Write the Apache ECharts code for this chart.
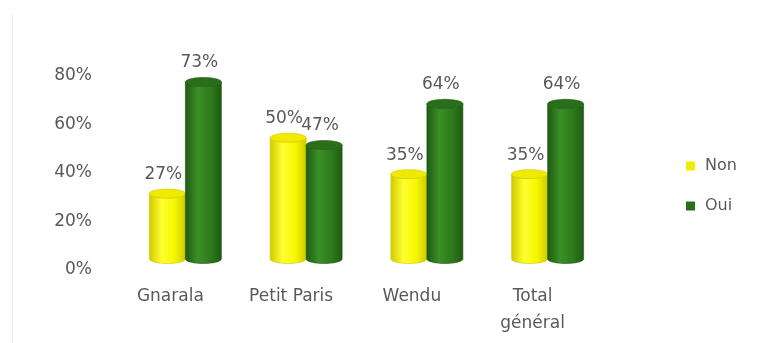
<!DOCTYPE html>
<html>
<head>
<meta charset="utf-8">
<script src="https://cdn.jsdelivr.net/npm/echarts@6/dist/echarts.min.js"></script>
<style>
  html, body { margin: 0; padding: 0; background: #fff; }
  #chart { width: 760px; height: 343px; }
</style>
</head>
<body>
<div id="chart"></div>
<script>
// Survey shares per locality
const categories = ['Gnarala', 'Petit Paris', 'Wendu', 'Total\ngénéral'];
const nonValues = [0.27, 0.50, 0.35, 0.35];
const ouiValues = [0.73, 0.47, 0.64, 0.64];
const yTicks = [0, 0.2, 0.4, 0.6, 0.8];

const TEXT = '#595959';
const FONT = 'DejaVu Sans';
const FONT_SIZE = 17;

// Cylinder geometry (pixels)
const BAR_W = 36;
const RY = 4.5;
const DEPTH_DX = 15;   // perspective shift of the bar pair
const DEPTH_DY = -11;

function ellipsePoints(cx, cy, rx, ry, a0, a1, n) {
  const pts = [];
  for (let i = 0; i <= n; i++) {
    const a = a0 + (a1 - a0) * i / n;
    pts.push([cx + rx * Math.cos(a), cy + ry * Math.sin(a)]);
  }
  return pts;
}

function makeCylinderRenderer(offset, palette) {
  return function (params, api) {
    const idx = api.value(0);
    const v = api.value(1);
    const top = api.coord([idx, v]);
    const base = api.coord([idx, 0]);
    const cx = top[0] + DEPTH_DX + offset;
    const yTop = top[1] + DEPTH_DY;
    const yBot = base[1] + DEPTH_DY;
    const rx = BAR_W / 2;
    const xL = cx - rx, xR = cx + rx;

    // Body: left side, bottom front arc, right side, top front arc
    const body = [[xL, yTop], [xL, yBot]]
      .concat(ellipsePoints(cx, yBot, rx, RY, Math.PI, 0, 30))
      .concat([[xR, yTop]])
      .concat(ellipsePoints(cx, yTop, rx, RY, 0, Math.PI, 30));

    const bodyFill = new echarts.graphic.LinearGradient(0, 0, 1, 0, [
      { offset: 0, color: palette.edge },
      { offset: 0.35, color: palette.light },
      { offset: 0.7, color: palette.main },
      { offset: 1, color: palette.edge }
    ]);

    return {
      type: 'group',
      children: [
        {
          type: 'polygon',
          shape: { points: body },
          style: { fill: bodyFill, stroke: palette.edge, lineWidth: 0.6 }
        },
        {
          type: 'polygon',
          shape: { points: ellipsePoints(cx, yTop, rx, RY, 0, Math.PI * 2, 48) },
          style: { fill: palette.top, stroke: palette.edge, lineWidth: 0.6 }
        },
        {
          type: 'text',
          style: {
            text: Math.round(v * 100) + '%',
            x: cx - 4,
            y: yTop - 19,
            align: 'center',
            verticalAlign: 'middle',
            fill: TEXT,
            font: FONT_SIZE + 'px ' + FONT
          },
          z2: 10
        }
      ]
    };
  };
}

const yellow = { main: '#f6f600', light: '#ffff30', edge: '#cfc900', top: '#f0ea00' };
const green = { main: '#2e7a1c', light: '#3a8f26', edge: '#1f5a12', top: '#2a6e1a' };

const chart = echarts.init(document.getElementById('chart'), null, { renderer: 'canvas' });

chart.setOption({
  backgroundColor: '#fff',
  animation: false,
  graphic: [{
    type: 'line',
    shape: { x1: 12.5, y1: 14, x2: 12.5, y2: 343 },
    style: { stroke: '#ececec', lineWidth: 1 }
  }],
  legend: {
    orient: 'vertical',
    left: 681,
    top: 153,
    itemWidth: 9,
    itemHeight: 9,
    itemGap: 24,
    icon: 'rect',
    textStyle: { color: TEXT, fontSize: 16, fontFamily: FONT, padding: [0, 0, 0, 5] },
    data: ['Non', 'Oui']
  },
  grid: { left: 110, right: 167, top: 76, bottom: 73 },
  xAxis: {
    type: 'category',
    data: categories,
    axisLine: { show: false },
    axisTick: { show: false },
    axisLabel: {
      color: TEXT, fontSize: FONT_SIZE, fontFamily: FONT,
      margin: 13, lineHeight: 27, interval: 0
    }
  },
  yAxis: {
    type: 'value',
    min: 0,
    max: yTicks[yTicks.length - 1],
    interval: 0.2,
    splitLine: { show: false },
    axisLine: { show: false },
    axisTick: { show: false },
    axisLabel: {
      color: TEXT, fontSize: FONT_SIZE, fontFamily: FONT, margin: 18,
      formatter: v => Math.round(v * 100) + '%'
    }
  },
  series: [
    {
      name: 'Non',
      type: 'custom',
      itemStyle: { color: '#f2ee00' },
      renderItem: makeCylinderRenderer(-BAR_W / 2, yellow),
      encode: { x: 0, y: 1 },
      data: nonValues.map((v, i) => [i, v])
    },
    {
      name: 'Oui',
      type: 'custom',
      itemStyle: { color: '#2a6e1a' },
      renderItem: makeCylinderRenderer(BAR_W / 2, green),
      encode: { x: 0, y: 1 },
      data: ouiValues.map((v, i) => [i, v])
    }
  ]
});
</script>
</body>
</html>
